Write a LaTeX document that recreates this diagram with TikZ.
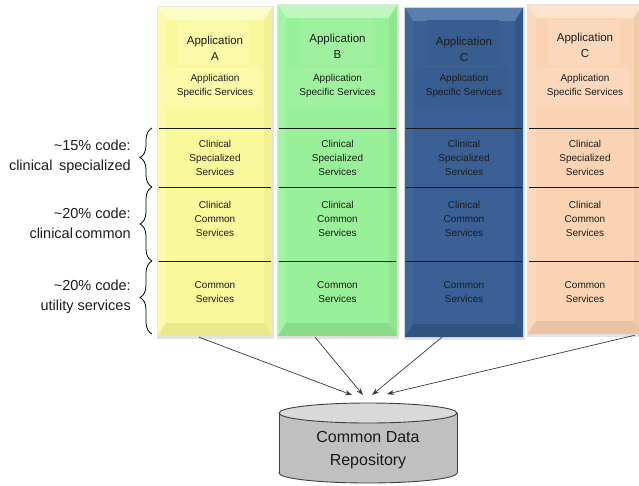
\documentclass[tikz,border=0pt]{standalone}
\usepackage{fontspec}
\setmainfont{Liberation Sans}
\usetikzlibrary{calc,arrows.meta,decorations.pathreplacing}

% column colours: base, top/left highlight, right/bottom shade, text panel
\definecolor{Abase}{HTML}{F9F99B}\definecolor{Atop}{HTML}{FCFCC6}\definecolor{Aleft}{HTML}{FAFAAC}
\definecolor{Aright}{HTML}{F0F094}\definecolor{Abot}{HTML}{EAEA8C}\definecolor{Apanel}{HTML}{FAFAA9}
\definecolor{Bbase}{HTML}{98F098}\definecolor{Btop}{HTML}{C0F7C0}\definecolor{Bleft}{HTML}{A6F3A6}
\definecolor{Bright}{HTML}{90E690}\definecolor{Bbot}{HTML}{8ADC8A}\definecolor{Bpanel}{HTML}{9FF19F}
\definecolor{Cbase}{HTML}{3A6095}\definecolor{Ctop}{HTML}{5A7EAE}\definecolor{Cleft}{HTML}{40659A}
\definecolor{Cright}{HTML}{325687}\definecolor{Cbot}{HTML}{2F5280}\definecolor{Cpanel}{HTML}{375D91}
\definecolor{Dbase}{HTML}{FAD3B3}\definecolor{Dtop}{HTML}{FCE4D0}\definecolor{Dleft}{HTML}{FBD9BD}
\definecolor{Dright}{HTML}{F1CAAA}\definecolor{Dbot}{HTML}{EAC3A4}\definecolor{Dpanel}{HTML}{FBD8BB}
\definecolor{ink}{HTML}{1C1C1C}
\definecolor{rule}{HTML}{1A1A1A}
\definecolor{arrowgray}{HTML}{3A3A3A}
\definecolor{cylbody}{HTML}{C0C0C0}
\definecolor{cyltop}{HTML}{D9D9D9}
\definecolor{cylline}{HTML}{404040}

\tikzset{
  svc/.style={inner sep=0pt, align=center, text=ink, font=\fontsize{10}{14}\selectfont},
  apptitle/.style={inner sep=0pt, align=center, text=ink, font=\fontsize{11.5}{15.5}\selectfont},
  share/.style={inner sep=0pt, align=right, anchor=east, text=ink, font=\fontsize{14.5}{20}\selectfont},
  layerrule/.style={draw=rule, line width=0.8pt},
  bracket/.style={draw=black, line width=0.8pt, decorate, decoration={brace, amplitude=12pt}},
  feed/.style={draw=arrowgray, line width=0.7pt, -{Stealth[length=7pt,width=5pt]}},
}

% one application column: id, left, right, top, bottom, letter, title centre y
\newcommand\appcolumn[7]{%
  \pgfmathsetmacro\cx{(#2+#3)/2}%
  \pgfmathsetmacro\cy{(#4+#5)/2}%
  \pgfmathsetmacro\cw{#3-#2}%
  \pgfmathsetmacro\ch{#5-#4}%
  \fill[black!11] (#2-1.5,#4-1) rectangle (#3+2,#5+2.5);
  \node[inner sep=0pt, minimum width=\cw pt, minimum height=\ch pt, fill=#1base] (col#1) at (\cx,\cy) {};
  \fill[#1top] (col#1.north west) -- (col#1.north east) -- ++(-8,13) -- ($(col#1.north west)+(8,13)$) -- cycle;
  \fill[#1left] (col#1.north west) -- ($(col#1.north west)+(8,13)$) -- ($(col#1.south west)+(8,-13)$) -- (col#1.south west) -- cycle;
  \fill[#1right] (col#1.north east) -- ($(col#1.north east)+(-8,13)$) -- ($(col#1.south east)+(-8,-13)$) -- (col#1.south east) -- cycle;
  \fill[#1bot] (col#1.south west) -- ($(col#1.south west)+(8,-13)$) -- ($(col#1.south east)+(-8,-13)$) -- (col#1.south east) -- cycle;
  \fill[#1panel] (\cx-37,20) rectangle (\cx+35,65);
  \fill[#1panel] (\cx-49,68) rectangle (\cx+45,107);
  \draw[layerrule] (#2+1,128) -- (#3-1,128);
  \draw[layerrule] (#2+1,187) -- (#3-1,187);
  \draw[layerrule] (#2+1,261) -- (#3-1,261);
  \node[apptitle] (title#1) at (\cx,#7) {Application\\#6};
  \node[svc] (spec#1) at (\cx,86) {Application\\Specific Services};
  \node[svc] (clinspec#1) at (\cx,158) {Clinical\\Specialized\\Services};
  \node[svc] (clincom#1) at (\cx,219) {Clinical\\Common\\Services};
  \node[svc] (common#1) at (\cx,292) {Common\\Services};
}

\begin{document}
\begin{tikzpicture}[x=1pt,y=-1pt]
  \useasboundingbox (0,0) rectangle (639,485);
  \clip (0,0) rectangle (639,485);
  \fill[white] (0,0) rectangle (639,485);

  % application stacks
  \appcolumn{A}{158}{272}{7}{336}{A}{48.5}
  \appcolumn{B}{278}{397}{5}{336}{B}{46.5}
  \appcolumn{C}{405}{523}{8}{337}{C}{49.5}
  \appcolumn{D}{528}{642}{5}{334}{C}{45.5}

  % code share of each layer
  \coordinate (b1top) at (152,128);
  \coordinate (b1bot) at (152,187);
  \coordinate (b2bot) at (152,261);
  \coordinate (b3bot) at (152,334);
  \draw[bracket] (b1bot) -- (b1top);
  \draw[bracket] (b2bot) -- (b1bot);
  \draw[bracket] (b3bot) -- (b2bot);
  \node[share] (share1) at (131,157) {\char`\~15\% code:\\clinical\hspace{0.45em}specialized};
  \node[share] (share2) at (131,223) {\char`\~20\% code:\\clinical\hspace{0.15em}common};
  \node[share] (share3) at (131,297) {\char`\~20\% code:\\utility services};

  % shared data store
  \fill[cylbody, draw=cylline, line width=0.9pt] (368,473) ellipse [x radius=89, y radius=10];
  \fill[cylbody] (279,413) rectangle (457,473);
  \draw[cylline, line width=0.9pt] (279,413) -- (279,473);
  \draw[cylline, line width=0.9pt] (457,413) -- (457,473);
  \fill[cyltop, draw=cylline, line width=0.9pt] (368,413) ellipse [x radius=89, y radius=10];
  \node[inner sep=0pt, align=center, text=black!90, font=\fontsize{16}{23}\selectfont] (repo) at (368,450) {Common Data\\Repository};

  % links into the repository
  \coordinate (inA) at (352,395);
  \coordinate (inB) at (363,395);
  \coordinate (inC) at (372,395);
  \coordinate (inD) at (387,394);
  \draw[feed] ($(colA.south)+(-16,1)$) -- (inA);
  \draw[feed] ($(colB.south)+(-22.5,1)$) -- (inB);
  \draw[feed] ($(colC.south)+(-22,0)$) -- (inC);
  \draw[feed] ($(colD.south)+(50,1)$) -- (inD);
\end{tikzpicture}
\end{document}
